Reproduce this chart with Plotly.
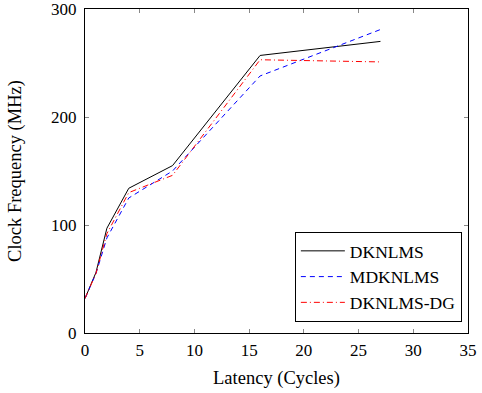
import plotly.graph_objects as go

latency = [0, 1, 2, 4, 8, 16, 27]
dknlms = [32, 56, 97, 134, 155, 257, 270]
mdknlms = [32, 55, 88, 125, 150, 238, 281]
dknlms_dg = [32, 55, 92, 130, 146, 253, 251]

fig = go.Figure()
fig.add_trace(go.Scatter(x=latency, y=dknlms, mode="lines", name="DKNLMS",
                         line=dict(color="black", width=1)))
fig.add_trace(go.Scatter(x=latency, y=mdknlms, mode="lines", name="MDKNLMS",
                         line=dict(color="#0000ff", width=1, dash="5px,4px")))
fig.add_trace(go.Scatter(x=latency, y=dknlms_dg, mode="lines", name="DKNLMS-DG",
                         line=dict(color="#ff0000", width=1, dash="6px,3px,1px,3px")))

font = "Liberation Serif"
fig.update_layout(
    width=482, height=393,
    margin=dict(l=85, r=14, t=9, b=60, autoexpand=False),
    plot_bgcolor="white", paper_bgcolor="white",
    font=dict(family=font, size=17, color="black"),
    showlegend=True,
    legend=dict(x=0.984, y=0.034, xanchor="right", yanchor="bottom",
                bordercolor="black", borderwidth=1, bgcolor="white",
                font=dict(size=17.5, family=font), tracegroupgap=0,
                itemwidth=44),
)
fig.update_xaxes(range=[0, 35], tickvals=[0, 5, 10, 15, 20, 25, 30, 35],
                 showgrid=False, zeroline=False, showline=True, linecolor="black",
                 linewidth=1, mirror="ticks", ticks="inside", ticklen=4,
                 tickcolor="#888", automargin=False, ticklabelstandoff=2,
                 ticklabeloverflow="allow",
                 title=dict(text="Latency (Cycles)", font=dict(size=18.5, family=font), standoff=11),
                 tickfont=dict(size=17, family=font))
fig.update_yaxes(range=[0, 300], tickvals=[0, 100, 200, 300],
                 showgrid=False, zeroline=False, showline=True, linecolor="black",
                 linewidth=1, mirror="ticks", ticks="inside", ticklen=4,
                 tickcolor="#888", automargin=False, ticklabelstandoff=4,
                 ticklabeloverflow="allow",
                 title=dict(text="Clock Frequency (MHz)", font=dict(size=18.5, family=font), standoff=24),
                 tickfont=dict(size=17, family=font))

fig.write_html("out.html")
